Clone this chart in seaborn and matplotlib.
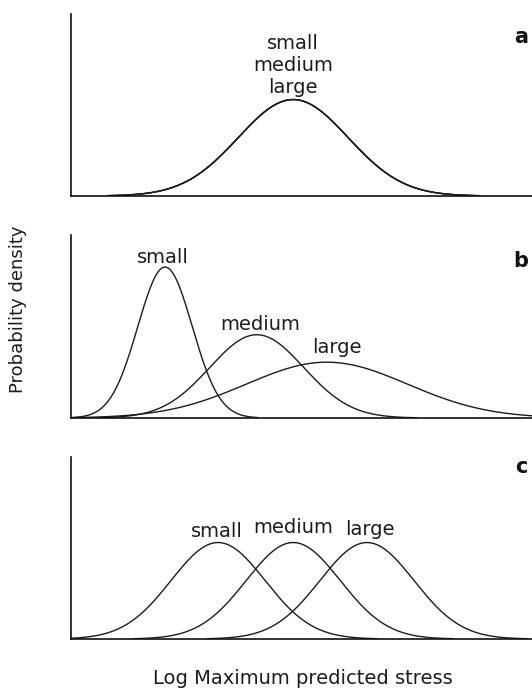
import numpy as np
import pandas as pd
import matplotlib
matplotlib.use("Agg")
import matplotlib.pyplot as plt
import seaborn as sns

# Size classes and the normal curves (on the log-stress scale) for each scenario
sizes = ["small", "medium", "large"]

# a: all sizes share one distribution
a_means = [4.82, 4.82, 4.82]
a_sds = [1.19, 1.19, 1.19]
a_peaks = [0.53, 0.53, 0.53]

# b: spread increases with size
b_means = [2.04, 4.03, 5.55]
b_sds = [0.59, 1.02, 1.75]
b_peaks = [0.825, 0.455, 0.305]

# c: equal spread, shifted means
c_means = [3.19, 4.82, 6.42]
c_sds = [1.02, 1.02, 1.02]
c_peaks = [0.53, 0.53, 0.53]

# label anchor points (x, baseline y) in data units
a_label_xy = (4.82, 0.565)
b_label_xy = [(2.00, 0.845), (4.10, 0.48), (5.77, 0.355)]
c_label_xy = [(3.17, 0.56), (4.82, 0.585), (6.49, 0.57)]

panel_letters = ["a", "b", "c"]
x_label = "Log Maximum predicted stress"
y_label = "Probability density"

X_MAX = 10.0
Y_MAX = 1.0
INK = "#1c1c1c"


def curve_frame(means, sds, peaks):
    rows = []
    for name, m, s, p in zip(sizes, means, sds, peaks):
        x = np.linspace(max(0.0, m - 3.4 * s), min(X_MAX, m + 3.4 * s), 300)
        y = p * np.exp(-0.5 * ((x - m) / s) ** 2)
        rows.append(pd.DataFrame({"size": name, "x": x, "density": y}))
    return pd.concat(rows, ignore_index=True)


sns.set_style("white")
plt.rcParams["font.family"] = ["DejaVu Sans"]

W, H = 532, 689
fig = plt.figure(figsize=(W / 100, H / 100), dpi=100)

# panel rectangles in pixel terms: (top, bottom)
panel_px = [(14, 196), (235, 418), (457, 639)]
left_px = 71

panels = [
    (a_means, a_sds, a_peaks),
    (b_means, b_sds, b_peaks),
    (c_means, c_sds, c_peaks),
]

axes = []
for (top, bot), (means, sds, peaks), letter in zip(panel_px, panels, panel_letters):
    ax = fig.add_axes([left_px / W, 1 - bot / H, 1 - left_px / W, (bot - top) / H])
    df = curve_frame(means, sds, peaks)
    sns.lineplot(data=df, x="x", y="density", units="size", estimator=None,
                 color=INK, linewidth=1.0, ax=ax, legend=False)
    ax.set_xlim(0, X_MAX)
    ax.set_ylim(0, Y_MAX)
    ax.set_xticks([])
    ax.set_yticks([])
    ax.set_xlabel("")
    ax.set_ylabel("")
    for side in ["top", "right"]:
        ax.spines[side].set_visible(False)
    for side in ["left", "bottom"]:
        ax.spines[side].set_color("#111111")
        ax.spines[side].set_linewidth(1.2)
    ax.set_facecolor("white")
    axes.append(ax)

# curve labels
axa, axb, axc = axes
axa.text(a_label_xy[0], a_label_xy[1], "\n".join(sizes), ha="center", va="baseline",
         fontsize=14, color=INK, linespacing=1.2)
for ax, pts in ((axb, b_label_xy), (axc, c_label_xy)):
    for name, (x, y) in zip(sizes, pts):
        ax.text(x, y, name, ha="center", va="baseline", fontsize=14, color=INK)

# panel letters
for letter, base_px in zip(panel_letters, [43, 267, 473]):
    fig.text(528 / W, 1 - base_px / H, letter, ha="right", va="baseline",
             fontsize=15, fontweight="bold", color="#111111")

fig.text(18 / W, 1 - 309 / H, y_label, rotation=90, ha="center", va="center",
         fontsize=13, color=INK)
fig.text(303 / W, 1 - 679 / H, x_label, ha="center", va="center",
         fontsize=14, color=INK)

fig.savefig("out.png", dpi=100, facecolor="white")
